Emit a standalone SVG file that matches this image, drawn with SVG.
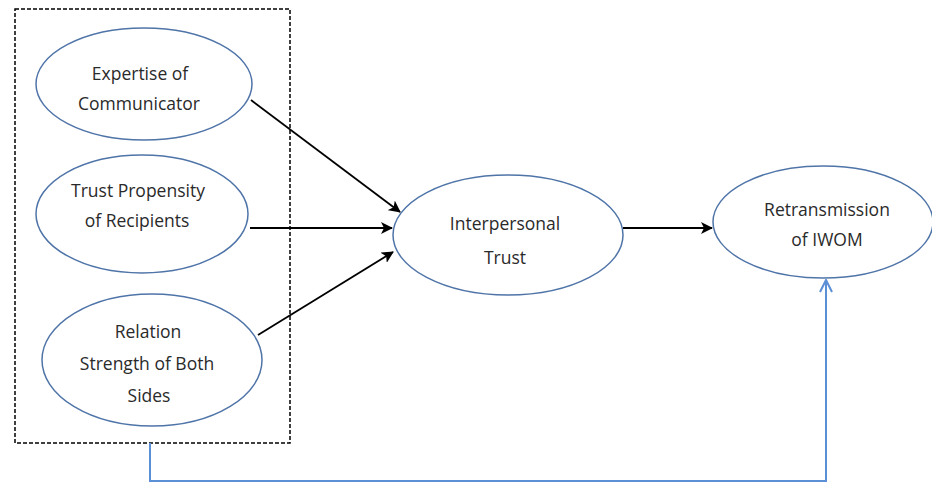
<svg xmlns="http://www.w3.org/2000/svg" width="932" height="483" viewBox="0 0 932 483">
<defs>
<style>
.node{fill:#fff;stroke:#4f74a8;stroke-width:1.5}
.t{font-family:"Open Sans","Liberation Sans",sans-serif;font-size:17.5px;fill:#2a2a2a;text-anchor:middle}
.blk{stroke:#000;stroke-width:1.8;fill:none}
.blue{stroke:#5b8fd6;stroke-width:2;fill:none}
</style>
<marker id="ah" viewBox="0 0 12 12" refX="11" refY="6" markerWidth="12" markerHeight="12" markerUnits="userSpaceOnUse" orient="auto">
<path d="M0,0 L12,6 L0,12 L3,6 Z" fill="#000"/>
</marker>
<marker id="oh" viewBox="0 0 14 14" refX="13" refY="7" markerWidth="14" markerHeight="14" markerUnits="userSpaceOnUse" orient="auto">
<path d="M1,1 L13,7 L1,13" fill="none" stroke="#5b8fd6" stroke-width="2"/>
</marker>
</defs>
<rect width="932" height="483" fill="#fff"/>
<rect id="group-box" x="15" y="9" width="275" height="434" fill="none" stroke="#000" stroke-width="1.5" stroke-dasharray="4,2"/>
<g id="connectors">
<line class="blk" x1="251" y1="100" x2="400" y2="212" marker-end="url(#ah)"/>
<line class="blk" x1="250" y1="228" x2="392" y2="228" marker-end="url(#ah)"/>
<line class="blk" x1="258" y1="335" x2="393" y2="252" marker-end="url(#ah)"/>
<line class="blk" x1="623" y1="228" x2="712" y2="228" marker-end="url(#ah)"/>
<polyline class="blue" points="150,443 150,481 826,481 826,280" marker-end="url(#oh)"/>
</g>
<g id="expertise">
<ellipse class="node" cx="144" cy="84" rx="108" ry="56"/>
<text class="t" x="140" y="80">Expertise of</text>
<text class="t" x="139" y="110">Communicator</text>
</g>
<g id="propensity">
<ellipse class="node" cx="142" cy="214" rx="106" ry="59"/>
<text class="t" x="138" y="197">Trust Propensity</text>
<text class="t" x="137" y="227">of Recipients</text>
</g>
<g id="relation">
<ellipse class="node" cx="152" cy="360" rx="110" ry="66"/>
<text class="t" x="148" y="338">Relation</text>
<text class="t" x="147" y="370">Strength of Both</text>
<text class="t" x="149" y="402">Sides</text>
</g>
<g id="interpersonal">
<ellipse class="node" cx="508" cy="235" rx="115" ry="60"/>
<text class="t" x="505" y="230">Interpersonal</text>
<text class="t" x="505" y="264">Trust</text>
</g>
<g id="retransmission">
<ellipse class="node" cx="823" cy="222" rx="110" ry="56"/>
<text class="t" x="827" y="216">Retransmission</text>
<text class="t" x="827" y="246">of IWOM</text>
</g>
</svg>
